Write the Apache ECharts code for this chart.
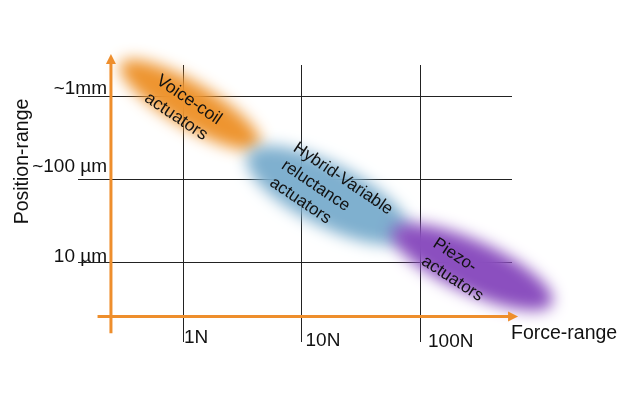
<!DOCTYPE html>
<html><head><meta charset="utf-8">
<script src="https://cdn.jsdelivr.net/npm/echarts@6/dist/echarts.min.js"></script>
<style>html,body{margin:0;padding:0;background:#fff}#c{width:640px;height:400px}</style>
</head><body><div id="c"></div>
<script>
// ---------------- data ----------------
// Force axis in log10(N), position axis in log10(µm)
const forceTicks = [0, 1, 2];
const forceTickLabels = ['1N', '10N', '100N'];
const positionTicks = [1, 2, 3];
const positionTickLabels = ['10 µm', '~100 µm', '~1mm'];
const xAxisName = 'Force-range';
const yAxisName = 'Position-range';

// actuator families: range start / end (log10 N, log10 µm)
const actuatorNames = ['Voice-coil\nactuators', 'Hybrid-Variable\nreluctance\nactuators', 'Piezo-\nactuators'];
const forceStart = [-0.54, 0.53, 1.75];
const forceEnd = [0.66, 1.92, 3.13];
const positionStart = [3.40, 2.31, 1.39];
const positionEnd = [2.39, 1.30, 0.49];

// orange arrow axes (start x, start y, end x, end y) in data units
const arrowStartX = [-0.608, -0.721];
const arrowStartY = [0.141, 0.342];
const arrowEndX = [-0.608, 2.827];
const arrowEndY = [3.506, 0.342];

// ---------------- style ----------------
const FONT = '"Liberation Sans", Arial, Helvetica, sans-serif';
const ORANGE = '#EE8E2C';
const GRID = '#222';
const blobStyle = [
  { color: '#EE9530', ry: 22, fs: 17.5, dx: -7, dy: 4, rot: -34 },
  { color: '#7FB0CF', ry: 31, fs: 17, dx: 3, dy: 1, rot: -34 },
  { color: '#8B4FBF', ry: 26, fs: 17, dx: -14, dy: 3, rot: -33 }
];
const xPad = [[0, 0, 0, 1], [2.5, 0, 0, 4], [4, 0, 0, 8]];
const yPad = [[0, 0, 11, 0], [0, 0, 25, 0], [0, 0, 14, 0]];

const mctx = document.createElement('canvas').getContext('2d');
function blockWidth(t, fs) {
  mctx.font = fs + 'px ' + FONT;
  return Math.max.apply(null, t.split('\n').map(s => mctx.measureText(s).width));
}

function renderBlob(params, api) {
  const i = params.dataIndex;
  const p0 = api.coord([api.value(0), api.value(1)]);
  const p1 = api.coord([api.value(2), api.value(3)]);
  const st = blobStyle[i];
  const cx = (p0[0] + p1[0]) / 2, cy = (p0[1] + p1[1]) / 2;
  const dx = p1[0] - p0[0], dy = p1[1] - p0[1];
  const len = Math.hypot(dx, dy), ang = Math.atan2(dy, dx);
  const FAR = 2000;
  const name = actuatorNames[i];
  const w = blockWidth(name, st.fs);
  return {
    type: 'group',
    children: [
      {
        type: 'ellipse', x: cx + FAR, y: cy, rotation: -ang, z2: 0,
        shape: { cx: 0, cy: 0, rx: len / 2 - 2, ry: st.ry },
        style: { fill: st.color, shadowBlur: 15, shadowColor: st.color, shadowOffsetX: -FAR, shadowOffsetY: 0 }
      },
      {
        type: 'text', x: cx + st.dx, y: cy + st.dy, rotation: st.rot * Math.PI / 180, z2: 10,
        style: {
          text: name, x: -w / 2, y: 0, font: st.fs + 'px ' + FONT, fill: '#111',
          align: 'left', verticalAlign: 'middle', lineHeight: 21
        }
      }
    ]
  };
}

function renderArrow(params, api) {
  const p0 = api.coord([api.value(0), api.value(1)]);
  const p1 = api.coord([api.value(2), api.value(3)]);
  const dx = p1[0] - p0[0], dy = p1[1] - p0[1], L = Math.hypot(dx, dy);
  const ux = dx / L, uy = dy / L;
  const head = 10, half = 5;
  const bx = p1[0] - ux * head, by = p1[1] - uy * head;
  return {
    type: 'group',
    children: [
      { type: 'line', shape: { x1: p0[0], y1: p0[1], x2: bx + ux, y2: by + uy }, style: { stroke: ORANGE, lineWidth: 3 } },
      { type: 'polygon', shape: { points: [[p1[0], p1[1]], [bx - uy * half, by + ux * half], [bx + uy * half, by - ux * half]] }, style: { fill: ORANGE } }
    ]
  };
}

const gridLines = forceTicks.map(v => ({ xAxis: v })).concat(positionTicks.map(v => ({ yAxis: v })));

const chart = echarts.init(document.getElementById('c'), null, { renderer: 'canvas' });
chart.setOption({
  animation: false,
  backgroundColor: '#fff',
  textStyle: { fontFamily: FONT },
  grid: { left: 78, right: 128, top: 65, bottom: 58, containLabel: false, outerBoundsMode: 'none' },
  xAxis: {
    type: 'value', min: -0.886, max: 2.776,
    name: xAxisName, nameLocation: 'end', nameGap: -1, nameMoveOverlap: false,
    nameTextStyle: { fontSize: 19.5, lineHeight: 17, color: '#111', fontFamily: FONT, align: 'left', verticalAlign: 'bottom' },
    axisLine: { show: false, onZero: false },
    axisTick: { show: false, customValues: forceTicks },
    splitLine: { show: false },
    axisLabel: {
      customValues: forceTicks, margin: -13.5, align: 'left', verticalAlign: 'top',
      formatter: (v) => { const i = forceTicks.indexOf(Math.round(v)); return '{l' + i + '|' + forceTickLabels[i] + '}'; },
      rich: {
        l0: { fontSize: 19, color: '#111', fontFamily: FONT, padding: xPad[0] },
        l1: { fontSize: 19, color: '#111', fontFamily: FONT, padding: xPad[1] },
        l2: { fontSize: 19, color: '#111', fontFamily: FONT, padding: xPad[2] }
      }
    }
  },
  yAxis: {
    type: 'value', min: 0.036, max: 3.373,
    name: yAxisName, nameLocation: 'middle', nameGap: 45, nameRotate: 90, nameMoveOverlap: false,
    nameTextStyle: { fontSize: 19.5, color: '#111', fontFamily: FONT, padding: [0, 0, 0, 84] },
    axisLine: { show: false, onZero: false },
    axisTick: { show: false, customValues: positionTicks },
    splitLine: { show: false },
    axisLabel: {
      customValues: positionTicks, margin: -29, align: 'right', verticalAlign: 'middle',
      formatter: (v) => { const i = positionTicks.indexOf(Math.round(v)); return '{l' + i + '|' + positionTickLabels[i] + '}'; },
      rich: {
        l0: { fontSize: 19, color: '#111', fontFamily: FONT, padding: yPad[0] },
        l1: { fontSize: 19, color: '#111', fontFamily: FONT, padding: yPad[1] },
        l2: { fontSize: 19, color: '#111', fontFamily: FONT, padding: yPad[2] }
      }
    }
  },
  series: [
    {
      type: 'custom', name: 'actuators', silent: true, clip: false, z: 2,
      renderItem: renderBlob,
      encode: { x: [0, 2], y: [1, 3] },
      data: forceStart.map((v, i) => [v, positionStart[i], forceEnd[i], positionEnd[i]]),
      markLine: {
        silent: true, symbol: 'none', label: { show: false }, z: 1,
        lineStyle: { color: GRID, width: 1, type: 'solid' },
        emphasis: { disabled: true },
        data: gridLines
      }
    },
    {
      type: 'custom', name: 'axes', silent: true, clip: false, z: 3,
      renderItem: renderArrow,
      encode: { x: [0, 2], y: [1, 3] },
      data: arrowStartX.map((v, i) => [v, arrowStartY[i], arrowEndX[i], arrowEndY[i]])
    }
  ]
});
</script></body></html>
